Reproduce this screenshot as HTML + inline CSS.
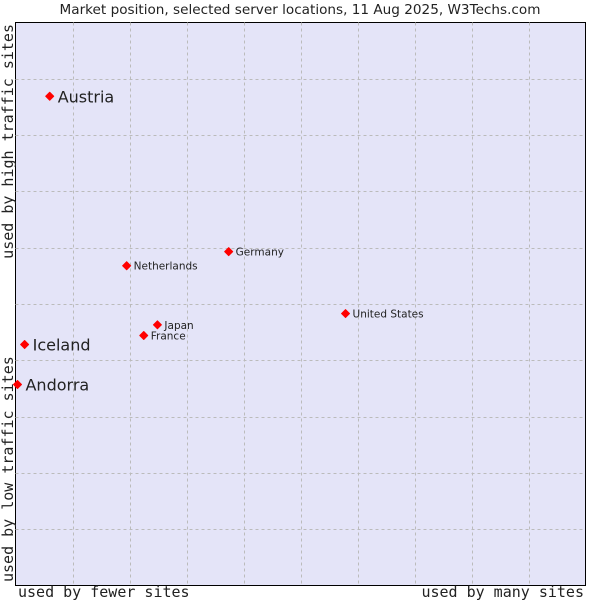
<!DOCTYPE html>
<html><head><meta charset="utf-8"><style>
body{margin:0;background:#fff;width:600px;height:600px;overflow:hidden}
svg text{fill:#222}
</style></head><body>
<svg id="chart" width="600" height="600" xmlns="http://www.w3.org/2000/svg">
<text x="300" y="14" text-anchor="middle" font-family="DejaVu Sans, sans-serif" font-size="13.6">Market position, selected server locations, 11 Aug 2025, W3Techs.com</text>
<rect x="15.5" y="22.5" width="570" height="563" fill="#e4e4f8" stroke="#000" stroke-width="1"/>
<g id="grid"></g>
<g id="points"></g>
<text x="18" y="597" font-family="DejaVu Sans Mono, monospace" font-size="15">used by fewer sites</text>
<text x="584" y="597" text-anchor="end" font-family="DejaVu Sans Mono, monospace" font-size="15">used by many sites</text>
<text transform="translate(13,582) rotate(-90)" font-family="DejaVu Sans Mono, monospace" font-size="15">used by low traffic sites</text>
<text transform="translate(13,24) rotate(-90)" text-anchor="end" font-family="DejaVu Sans Mono, monospace" font-size="15">used by high traffic sites</text>
</svg>
<script>
const names=["Austria","Iceland","Andorra","Netherlands","Germany","Japan","France","United States"];
const xVals=[6.0,1.6,0.35,19.5,37.4,24.9,22.5,57.9];
const yVals=[86.9,42.8,35.7,56.8,59.3,46.3,44.4,48.3];
const bigLabel=[true,true,true,false,false,false,false,false];
const L=15.5,R=585.5,T=22.5,B=585.5;
const sx=v=>L+(R-L)*v/100, sy=v=>B-(B-T)*v/100;
const NS="http://www.w3.org/2000/svg";
const grid=document.getElementById('grid');
for(let i=1;i<10;i++){
  const x=Math.round(sx(i*10))+0.5, y=Math.round(sy(i*10))+0.5;
  const v=document.createElementNS(NS,'line');
  
  
  v.setAttribute('x1',x);v.setAttribute('x2',x);v.setAttribute('y1',T);v.setAttribute('y2',B);
  v.setAttribute('stroke','#bbb');v.setAttribute('stroke-dasharray','3,3');grid.appendChild(v);
  const h=document.createElementNS(NS,'line');
  
  
  h.setAttribute('y1',y);h.setAttribute('y2',y);h.setAttribute('x1',L);h.setAttribute('x2',R);
  h.setAttribute('stroke','#bbb');h.setAttribute('stroke-dasharray','3,3');grid.appendChild(h);
}
const pts=document.getElementById('points');
names.forEach((n,i)=>{
  const x=sx(xVals[i]), y=sy(yVals[i]);
  const d=document.createElementNS(NS,'path');
  
  
  d.setAttribute('d',`M${x-4},${y} L${x},${y-4} L${x+4},${y} L${x},${y+4} Z`);
  d.setAttribute('fill','#f00');d.setAttribute('stroke','#f00');d.setAttribute('stroke-width','1');d.setAttribute('stroke-linejoin','round');
  pts.appendChild(d);
  const t=document.createElementNS(NS,'text');
  
  
  t.setAttribute('x',x+(bigLabel[i]?8:7));
  t.setAttribute('y',y+(bigLabel[i]?6:4));
  t.setAttribute('font-family','DejaVu Sans, sans-serif');
  t.setAttribute('font-size',bigLabel[i]?'16':'10.5');
  t.textContent=n;pts.appendChild(t);
});
</script>
</body></html>
